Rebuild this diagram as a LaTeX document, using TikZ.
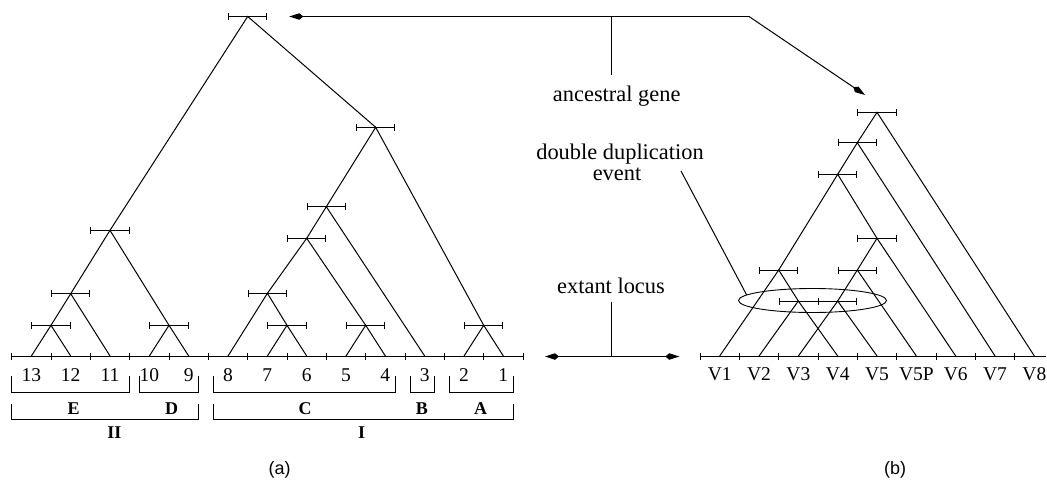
\documentclass[tikz,border=0pt]{standalone}
\usepackage{fontspec}
\setmainfont{Liberation Serif}
\newfontfamily\labsans{Liberation Sans}
\usetikzlibrary{arrows.meta,shapes.geometric}
\begin{document}
\begin{tikzpicture}[x=1pt,y=-1pt,
  edge/.style={line width=1pt},
  dupbar/.style={line width=1pt,{Bar[width=7pt]}-{Bar[width=7pt]}},
  axisline/.style={line width=1pt},
  tickmark/.style={line width=1pt},
  brk/.style={line width=0.9pt},
  ann/.style={font=\fontsize{22.4}{25}\selectfont, inner sep=0pt},
  lab/.style={font=\fontsize{19.5}{23}\selectfont, inner sep=0pt},
  grp/.style={font=\bfseries\fontsize{18}{22}\selectfont, inner sep=0pt},
  sublab/.style={font=\labsans\fontsize{18}{22}\selectfont, inner sep=0pt},
  pnt/.style={line width=1pt, -{Kite[length=14pt,width=6.5pt,inset=4pt]}},
  dpnt/.style={line width=1pt, {Kite[length=14pt,width=6.5pt,inset=4pt]}-{Kite[length=14pt,width=6.5pt,inset=4pt]}},
]
\useasboundingbox (0,0) rectangle (1047,493);

% ---------------- part (a) ----------------
\coordinate (axA0) at (11.7,356);
\coordinate (axA1) at (523,356);
\draw[axisline] (axA0) -- (axA1);
\foreach \k in {0,...,13} \draw[tickmark] (11.7+39.333*\k,352.5) -- (11.7+39.333*\k,359.5);

\foreach \n/\j in {13/0,12/1,11/2,10/3,9/4,8/5,7/6,6/7,5/8,4/9,3/10,2/11,1/12}{
  \coordinate (L\n) at (31.37+39.333*\j,356);
  \node[lab] (t\n) at (31.37+39.333*\j,375.5) {\n};
}

\coordinate (root) at (247.7,16.5);
\coordinate (aII) at (110.0,230.3);
\coordinate (a1113) at (70.7,293.7);
\coordinate (a1213) at (51.0,325.3);
\coordinate (aD) at (169.0,325.3);
\coordinate (aI) at (375.7,127.3);
\coordinate (aCB) at (326.3,206.7);
\coordinate (aC1) at (306.7,238.3);
\coordinate (aC2) at (267.4,293.3);
\coordinate (a76) at (287.0,325.3);
\coordinate (a54) at (365.7,325.3);
\coordinate (aA) at (483.7,325.3);

\draw[edge] (aII) -- (root) -- (aI);
\draw[edge] (a1113) -- (aII) -- (aD);
\draw[edge] (a1213) -- (a1113) -- (L11);
\draw[edge] (L13) -- (a1213) -- (L12);
\draw[edge] (L10) -- (aD) -- (L9);
\draw[edge] (aCB) -- (aI) -- (aA);
\draw[edge] (aC1) -- (aCB) -- (L3);
\draw[edge] (aC2) -- (aC1) -- (a54);
\draw[edge] (L8) -- (aC2) -- (a76);
\draw[edge] (L7) -- (a76) -- (L6);
\draw[edge] (L5) -- (a54) -- (L4);
\draw[edge] (L2) -- (aA) -- (L1);

\foreach \c in {root,aII,a1113,a1213,aD,aI,aCB,aC1,aC2,a76,a54,aA}
  \draw[dupbar] ([xshift=-19.67pt]\c) -- ([xshift=19.67pt]\c);

\foreach \xa/\xb in {11.7/129.7,139.7/198.3,213.3/395,410/434.3,449.3/513.3}
  \draw[brk] (\xa,376) -- (\xa,392) -- (\xb,392) -- (\xb,376);
\node[grp] (gE) at (73.7,408.3) {E};
\node[grp] (gD) at (171.7,408.3) {D};
\node[grp] (gC) at (305,408.3) {C};
\node[grp] (gB) at (421.9,408.3) {B};
\node[grp] (gA) at (480.7,408.3) {A};
\foreach \xa/\xb in {11.7/198.4,213/513.2}
  \draw[brk] (\xa,404) -- (\xa,419.7) -- (\xb,419.7) -- (\xb,404);
\node[grp] (gII) at (114.3,432.3) {II};
\node[grp] (gI) at (361.7,432.3) {I};

\node[sublab] (capa) at (279.6,469.4) {(a)};

% ---------------- part (b) ----------------
\coordinate (axB0) at (700,356);
\coordinate (axB1) at (1046,356);
\draw[axisline] (axB0) -- (axB1);
\foreach \k in {0,...,8} \draw[tickmark] (700+39.333*\k,352.5) -- (700+39.333*\k,359.5);

\foreach \n/\j in {V1/0,V2/1,V3/2,V4/3,V5/4,V5P/5,V6/6,V7/7,V8/8}{
  \coordinate (\n) at (719.7+39.333*\j,356);
  \node[lab] (t\n) at (719.7+39.333*\j,374.5) {\n};
}

\coordinate (R) at (877.0,112.3);
\coordinate (n2) at (857.3,142.7);
\coordinate (n3) at (837.7,174.3);
\coordinate (M) at (877.0,238.3);
\coordinate (P) at (778.7,270);
\coordinate (Q) at (857.3,270);
\coordinate (T1) at (798.3,301);
\coordinate (T2) at (837.7,301);

\draw[edge] (n2) -- (R) -- (V8);
\draw[edge] (n3) -- (n2) -- (V7);
\draw[edge] (P) -- (n3) -- (M);
\draw[edge] (Q) -- (M) -- (V6);
\draw[edge] (V1) -- (P) -- (T1);
\draw[edge] (T2) -- (Q) -- (V5P);
\draw[edge] (V2) -- (T1) -- (V4);
\draw[edge] (V3) -- (T2) -- (V5);

\foreach \c in {R,n2,n3,M,P,Q}
  \draw[dupbar] ([xshift=-19.67pt]\c) -- ([xshift=19.67pt]\c);
\draw[dupbar] ([xshift=-19.67pt]T1) -- ([xshift=19.67pt]T2);
\coordinate (Tm) at (818,301);
\draw[tickmark] ([yshift=-3.5pt]Tm) -- ([yshift=3.5pt]Tm);

\node[draw, ellipse, line width=0.9pt, minimum width=148pt, minimum height=24pt, inner sep=0pt] (ell) at (812.5,300.5) {};

\node[sublab] (capb) at (895,469.4) {(b)};

% ---------------- annotations ----------------
\node[ann, anchor=base] (ag) at (616.7,101.5) {ancestral gene};
\coordinate (tc) at (749,16.5);
\coordinate (agj) at (611.6,16.5);
\coordinate (agb) at (611.6,75.4);
\coordinate (tipA) at (289.3,16.5);
\coordinate (tipB) at (865,95);
\draw[pnt] (tc) -- (tipA);
\draw[pnt] (tc) -- (tipB);
\draw[edge] (agj) -- (agb);

\node[ann, anchor=base] (dd1) at (620,159.3) {double duplication};
\node[ann, anchor=base] (dd2) at (617,180) {event};
\coordinate (ddp) at (681,171);
\draw[edge] (ddp) -- (ell.175);

\node[ann, anchor=base] (el) at (611,293.3) {extant locus};
\coordinate (elt) at (611.3,301.7);
\coordinate (elb) at (611.3,356.5);
\coordinate (elL) at (545,356.5);
\coordinate (elR) at (679.3,356.5);
\draw[edge] (elt) -- (elb);
\draw[dpnt] (elL) -- (elR);
\end{tikzpicture}
\end{document}
